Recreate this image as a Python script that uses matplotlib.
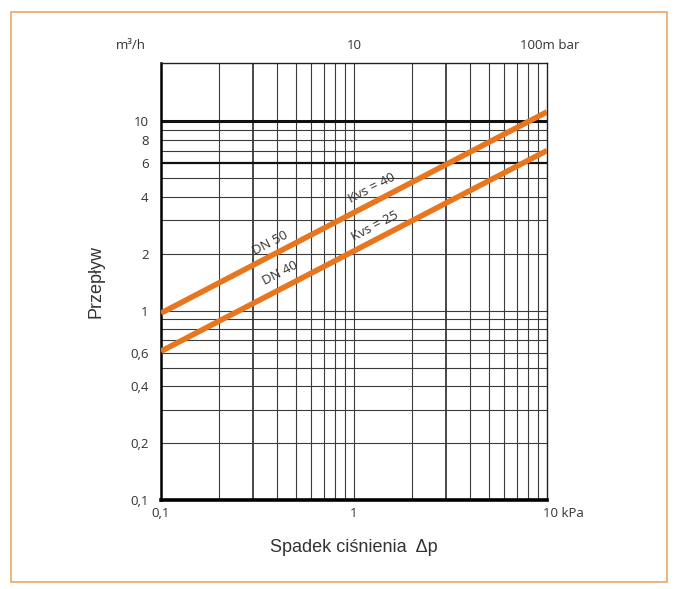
import numpy as np
import matplotlib
matplotlib.use('Agg')
import matplotlib.pyplot as plt
from matplotlib.patches import Rectangle

plt.rcParams['font.family'] = ['Open Sans', 'DejaVu Sans']

# pressure drop (kPa) and flow (m3/h) at the ends of each line
dp = [0.1, 10]
q_dn50 = [0.97, 11.2]
q_dn40 = [0.61, 7.0]

x_grid = [0.2, 0.3, 0.4, 0.5, 0.6, 0.7, 0.8, 0.9, 1, 2, 3, 4, 5, 6, 7, 8, 9]
x_bold = [0.3, 3]
y_grid = [0.2, 0.3, 0.4, 0.5, 0.6, 0.7, 0.8, 0.9, 1, 2, 3, 4, 5, 6, 7, 8, 9, 10]
y_bold = {6: 1.6, 10: 2.2}

y_ticks = [0.1, 0.2, 0.4, 0.6, 1, 2, 4, 6, 8, 10]
y_labels = ['0,1', '0,2', '0,4', '0,6', '1', '2', '4', '6', '8', '10']
x_ticks = [0.1, 1]
x_labels = ['0,1', '1']

ORANGE = '#e8761e'
GRID = '#3a3a3a'
TXT = '#333333'

fig = plt.figure(figsize=(6.78, 5.89), dpi=100)
fig.patches.append(Rectangle((11 / 678, 1 - 582 / 589), 656 / 678, 570 / 589,
                             transform=fig.transFigure, fill=False,
                             edgecolor='#e8a868', linewidth=1.2))
ax = fig.add_axes([161 / 678, 1 - 500 / 589, 386 / 678, 437 / 589])
ax.set_xscale('log')
ax.set_yscale('log')
ax.set_xlim(0.1, 10)
ax.set_ylim(0.1, 20.3)

for xv in x_grid:
    ax.axvline(xv, color=GRID, lw=1.3 if xv in x_bold else 0.8, zorder=1)
for yv in y_grid:
    ax.axhline(yv, color='#111111' if yv in y_bold else GRID,
               lw=y_bold.get(yv, 0.8), zorder=1)

ax.plot(dp, q_dn50, color=ORANGE, lw=4.0, solid_capstyle='butt', zorder=3)
ax.plot(dp, q_dn40, color=ORANGE, lw=4.0, solid_capstyle='butt', zorder=3)

rot = 27.5
lbl = dict(fontsize=9.5, color=TXT, rotation=rot, ha='center',
           va='center', rotation_mode='anchor', zorder=4)
ax.text(0.367, 2.28, 'DN 50', **lbl)
ax.text(1.24, 4.45, 'Kvs = 40', **lbl)
ax.text(0.414, 1.58, 'DN 40', **lbl)
ax.text(1.29, 2.8, 'Kvs = 25', **lbl)

ax.set_xticks(x_ticks)
ax.set_xticklabels(x_labels)
ax.set_yticks(y_ticks)
ax.set_yticklabels(y_labels)
ax.minorticks_off()
ax.tick_params(length=0, labelsize=9.5, colors=TXT, pad=5)
ax.tick_params(axis='y', pad=9)

for side in ['top', 'right']:
    ax.spines[side].set_linewidth(1.0)
    ax.spines[side].set_color('#222222')
ax.spines['left'].set_linewidth(1.8)
ax.spines['bottom'].set_linewidth(2.6)

ax.annotate('10 kPa', xy=(10, 0.1), xytext=(12, -5), textcoords='offset points',
            fontsize=9.5, color=TXT, ha='center', va='top')
ax.annotate('100m bar', xy=(10, 20.3), xytext=(2, 8), textcoords='offset points',
            fontsize=9.5, color=TXT, ha='center', va='bottom')
ax.annotate('10', xy=(1, 20.3), xytext=(0, 8), textcoords='offset points',
            fontsize=9.5, color=TXT, ha='center', va='bottom')
ax.annotate('m³/h', xy=(0.1, 20.3), xytext=(-22, 8), textcoords='offset points',
            fontsize=9.5, color=TXT, ha='center', va='bottom')

ax.set_ylabel('Przepływ', fontsize=13, color=TXT, labelpad=18,
              family='Liberation Sans')
ax.set_xlabel('Spadek ciśnienia  Δp', fontsize=13, color=TXT, labelpad=14,
              family='Liberation Sans')

fig.savefig('out.png', dpi=100)
